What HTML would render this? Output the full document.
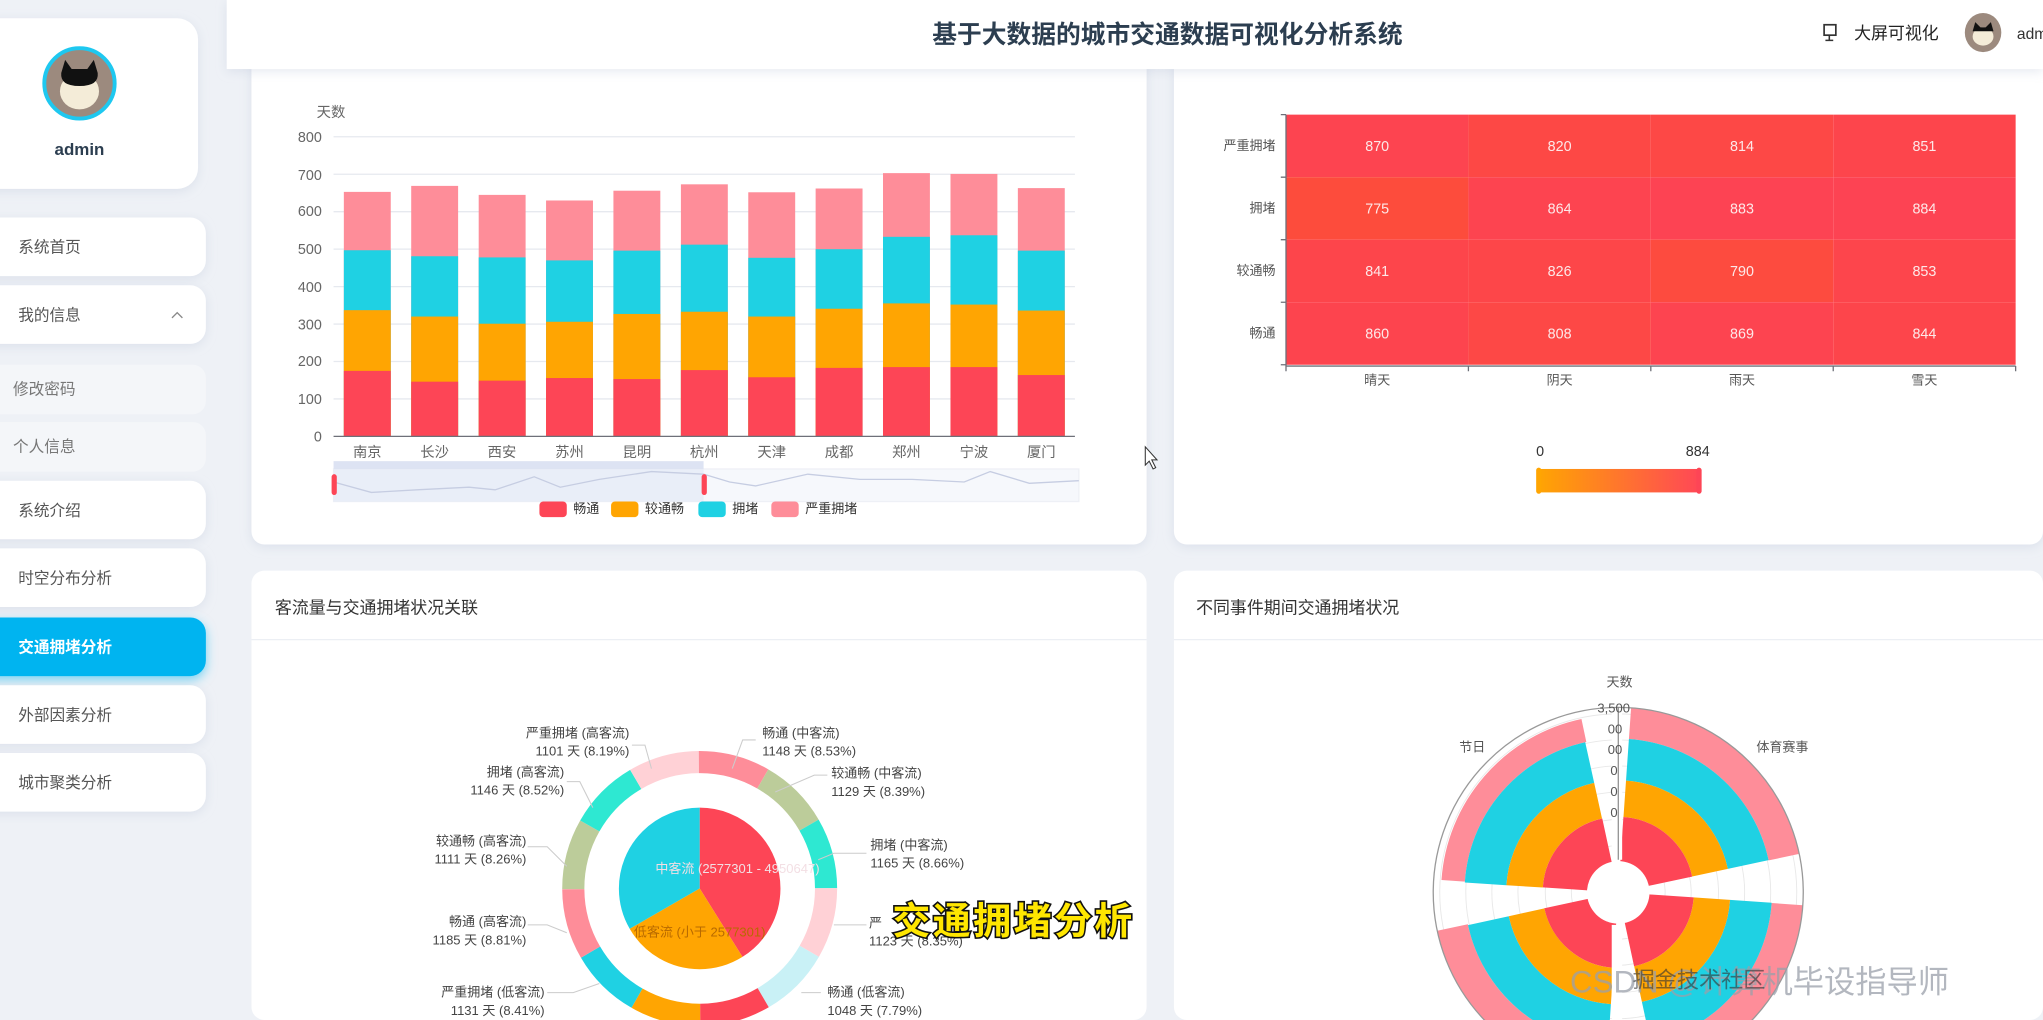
<!DOCTYPE html>
<html><head><meta charset="utf-8"><style>
html,body{margin:0;padding:0;width:2043px;height:1020px;overflow:hidden;background:#eef1f6}
svg{display:block}
text{font-family:"Liberation Sans","Noto Sans CJK SC",sans-serif}
</style></head><body>
<svg width="2043" height="1020" viewBox="0 0 1568 783" preserveAspectRatio="none" xmlns="http://www.w3.org/2000/svg" overflow="hidden">
<defs>
<filter id="sh" x="-10%" y="-10%" width="120%" height="130%"><feDropShadow dx="0" dy="2" stdDeviation="4" flood-color="#b8c2d6" flood-opacity="0.35"/></filter>
<filter id="shb" x="-10%" y="-20%" width="120%" height="160%"><feDropShadow dx="0" dy="3" stdDeviation="4" flood-color="#00b4f0" flood-opacity="0.5"/></filter>
<linearGradient id="vm" x1="0" x2="1"><stop offset="0" stop-color="#ffa502"/><stop offset="1" stop-color="#ff4757"/></linearGradient>
<clipPath id="cl"><rect x="0" y="0" width="1568" height="783"/></clipPath>
</defs>
<g clip-path="url(#cl)">
<rect width="1568" height="783" fill="#eef1f6"/>
<rect x="-20" y="14" width="172" height="131" rx="16" fill="#fff" filter="url(#sh)"/>
<circle cx="61" cy="64" r="27" fill="#9c8a7e" stroke="#1ec8f0" stroke-width="3"/>
<ellipse cx="61" cy="70" rx="15" ry="14" fill="#f4ecd8"/>
<path d="M47 56 L50 46 L55 53 L67 53 L72 46 L75 56 Q76 66 61 66 Q46 66 47 56Z" fill="#111"/>
<text x="61" y="119" text-anchor="middle" font-size="13" font-weight="bold" fill="#2c3e50">admin</text>
<g font-size="12" fill="#555">
<rect x="-20" y="167" width="178" height="45" rx="12" fill="#fff" filter="url(#sh)"/><text x="14" y="194">系统首页</text>
<rect x="-20" y="219" width="178" height="45" rx="12" fill="#fff" filter="url(#sh)"/><text x="14" y="246">我的信息</text>
<path d="M132 244 L136 240 L140 244" fill="none" stroke="#888" stroke-width="1"/>
<rect x="-20" y="280" width="178" height="38" rx="10" fill="#f4f6f9"/><text x="10" y="303" fill="#777">修改密码</text>
<rect x="-20" y="324" width="178" height="38" rx="10" fill="#f4f6f9"/><text x="10" y="347" fill="#777">个人信息</text>
<rect x="-20" y="369" width="178" height="45" rx="12" fill="#fff" filter="url(#sh)"/><text x="14" y="396">系统介绍</text>
<rect x="-20" y="421" width="178" height="45" rx="12" fill="#fff" filter="url(#sh)"/><text x="14" y="448">时空分布分析</text>
<rect x="-20" y="474" width="178" height="45" rx="12" fill="#00b4f0" filter="url(#shb)"/><text x="14" y="501" fill="#fff" font-weight="bold">交通拥堵分析</text>
<rect x="-20" y="526" width="178" height="45" rx="12" fill="#fff" filter="url(#sh)"/><text x="14" y="553">外部因素分析</text>
<rect x="-20" y="578" width="178" height="45" rx="12" fill="#fff" filter="url(#sh)"/><text x="14" y="605">城市聚类分析</text>
</g>
<rect x="193" y="30" width="687" height="388" rx="10" fill="#fff" filter="url(#sh)"/>
<rect x="901" y="30" width="667" height="388" rx="10" fill="#fff" filter="url(#sh)"/>
<rect x="193" y="438" width="687" height="345" rx="10" fill="#fff"/>
<rect x="901" y="438" width="667" height="345" rx="10" fill="#fff"/>
<line x1="193" y1="491" x2="880" y2="491" stroke="#eceff4"/>
<line x1="901" y1="491" x2="1568" y2="491" stroke="#eceff4"/>
<text x="211" y="471" font-size="13" fill="#333">客流量与交通拥堵状况关联</text>
<text x="918" y="471" font-size="13" fill="#333">不同事件期间交通拥堵状况</text>
<rect x="174" y="0" width="1394" height="53" fill="#fff" filter="url(#sh)"/>
<text x="896" y="33" text-anchor="middle" font-size="19" font-weight="bold" fill="#2c3e50">基于大数据的城市交通数据可视化分析系统</text>
<rect x="1400" y="19" width="9" height="8" fill="none" stroke="#333" stroke-width="1.3"/><path d="M1404 27 V31 M1401 31 H1407" stroke="#333" stroke-width="1.2"/>
<text x="1423" y="30" font-size="13" fill="#222">大屏可视化</text>
<ellipse cx="1522" cy="25" rx="14" ry="15" fill="#9c8a7e"/><ellipse cx="1522" cy="28" rx="8" ry="7" fill="#f4ecd8"/><path d="M1514 24 L1516 17 L1520 21 L1524 21 L1528 17 L1530 24Z" fill="#111"/>
<text x="1548" y="30" font-size="12" fill="#333">adm</text>
<g stroke="#e6e9ef" stroke-width="1">
<line x1="256" x2="825" y1="105" y2="105"/><line x1="256" x2="825" y1="133.75" y2="133.75"/><line x1="256" x2="825" y1="162.5" y2="162.5"/><line x1="256" x2="825" y1="191.25" y2="191.25"/><line x1="256" x2="825" y1="220" y2="220"/><line x1="256" x2="825" y1="248.75" y2="248.75"/><line x1="256" x2="825" y1="277.5" y2="277.5"/><line x1="256" x2="825" y1="306.25" y2="306.25"/>
</g>
<g font-size="11" fill="#666" text-anchor="end">
<text x="247" y="109">800</text><text x="247" y="138">700</text><text x="247" y="166">600</text><text x="247" y="195">500</text><text x="247" y="224">400</text><text x="247" y="253">300</text><text x="247" y="281">200</text><text x="247" y="310">100</text><text x="247" y="339">0</text>
</g>
<text x="243" y="90" font-size="11" fill="#666">天数</text>
<g>
<rect x="263.9" y="147.3" width="36" height="187.7" fill="#fe8d99"/><rect x="263.9" y="192.1" width="36" height="142.9" fill="#1fd1e3"/><rect x="263.9" y="238.1" width="36" height="96.9" fill="#ffa502"/><rect x="263.9" y="284.7" width="36" height="50.3" fill="#fd4556"/>
<rect x="315.6" y="142.7" width="36" height="192.3" fill="#fe8d99"/><rect x="315.6" y="196.7" width="36" height="138.3" fill="#1fd1e3"/><rect x="315.6" y="243" width="36" height="92" fill="#ffa502"/><rect x="315.6" y="293" width="36" height="42" fill="#fd4556"/>
<rect x="367.4" y="149.6" width="36" height="185.4" fill="#fe8d99"/><rect x="367.4" y="197.6" width="36" height="137.4" fill="#1fd1e3"/><rect x="367.4" y="248.5" width="36" height="86.5" fill="#ffa502"/><rect x="367.4" y="292.2" width="36" height="42.8" fill="#fd4556"/>
<rect x="419.1" y="153.9" width="36" height="181.1" fill="#fe8d99"/><rect x="419.1" y="199.9" width="36" height="135.1" fill="#1fd1e3"/><rect x="419.1" y="247" width="36" height="88" fill="#ffa502"/><rect x="419.1" y="290.2" width="36" height="44.8" fill="#fd4556"/>
<rect x="470.8" y="146.4" width="36" height="188.6" fill="#fe8d99"/><rect x="470.8" y="192.4" width="36" height="142.6" fill="#1fd1e3"/><rect x="470.8" y="241" width="36" height="94" fill="#ffa502"/><rect x="470.8" y="291" width="36" height="44" fill="#fd4556"/>
<rect x="522.6" y="141.5" width="36" height="193.5" fill="#fe8d99"/><rect x="522.6" y="187.8" width="36" height="147.2" fill="#1fd1e3"/><rect x="522.6" y="239.3" width="36" height="95.7" fill="#ffa502"/><rect x="522.6" y="284.1" width="36" height="50.9" fill="#fd4556"/>
<rect x="574.3" y="147.6" width="36" height="187.4" fill="#fe8d99"/><rect x="574.3" y="197.9" width="36" height="137.1" fill="#1fd1e3"/><rect x="574.3" y="243" width="36" height="92" fill="#ffa502"/><rect x="574.3" y="289.6" width="36" height="45.4" fill="#fd4556"/>
<rect x="626" y="144.7" width="36" height="190.3" fill="#fe8d99"/><rect x="626" y="191.3" width="36" height="143.7" fill="#1fd1e3"/><rect x="626" y="237" width="36" height="98" fill="#ffa502"/><rect x="626" y="282.4" width="36" height="52.6" fill="#fd4556"/>
<rect x="677.7" y="132.9" width="36" height="202.1" fill="#fe8d99"/><rect x="677.7" y="181.8" width="36" height="153.2" fill="#1fd1e3"/><rect x="677.7" y="232.9" width="36" height="102.1" fill="#ffa502"/><rect x="677.7" y="281.8" width="36" height="53.2" fill="#fd4556"/>
<rect x="729.5" y="133.5" width="36" height="201.5" fill="#fe8d99"/><rect x="729.5" y="180.6" width="36" height="154.4" fill="#1fd1e3"/><rect x="729.5" y="233.8" width="36" height="101.2" fill="#ffa502"/><rect x="729.5" y="281.8" width="36" height="53.2" fill="#fd4556"/>
<rect x="781.2" y="144.4" width="36" height="190.6" fill="#fe8d99"/><rect x="781.2" y="192.4" width="36" height="142.6" fill="#1fd1e3"/><rect x="781.2" y="238.4" width="36" height="96.6" fill="#ffa502"/><rect x="781.2" y="287.9" width="36" height="47.1" fill="#fd4556"/>
</g>
<line x1="256" x2="825" y1="335" y2="335" stroke="#6e7079"/>
<g font-size="11" fill="#666" text-anchor="middle">
<text x="281.9" y="351">南京</text><text x="333.6" y="351">长沙</text><text x="385.3" y="351">西安</text><text x="437.1" y="351">苏州</text><text x="488.8" y="351">昆明</text><text x="540.5" y="351">杭州</text><text x="592.3" y="351">天津</text><text x="644" y="351">成都</text><text x="695.7" y="351">郑州</text><text x="747.5" y="351">宁波</text><text x="799.2" y="351">厦门</text>
</g>
<rect x="256" y="360" width="572" height="25" fill="#f6f8fc" stroke="#eef0f6"/>
<rect x="256" y="354" width="284" height="6" fill="#dde3f3"/>
<rect x="256" y="360" width="284" height="25" fill="#e4e9f7" opacity="0.7"/>
<polyline points="256,370 285,378 320,376 360,374 380,376 410,366 430,374 460,368 500,362 540,364 560,370 580,373 620,364 660,368 700,368 740,370 760,362 790,371 828,369" fill="none" stroke="#c6cde2" stroke-width="1"/>
<rect x="254.5" y="364" width="4" height="16" rx="2" fill="#fd4556"/><rect x="538.5" y="364" width="4" height="16" rx="2" fill="#fd4556"/>
<g font-size="10" fill="#333">
<rect x="414" y="385" width="21" height="12" rx="3" fill="#fd4556"/><text x="440" y="394">畅通</text>
<rect x="469" y="385" width="21" height="12" rx="3" fill="#ffa502"/><text x="495" y="394">较通畅</text>
<rect x="536" y="385" width="21" height="12" rx="3" fill="#1fd1e3"/><text x="562" y="394">拥堵</text>
<rect x="592" y="385" width="21" height="12" rx="3" fill="#fe8d99"/><text x="618" y="394">严重拥堵</text>
</g>
<g>
<rect x="987" y="88" width="140" height="48" fill="#fd4450"/><rect x="1127" y="88" width="140" height="48" fill="#fd4845"/><rect x="1267" y="88" width="140" height="48" fill="#fd4846"/><rect x="1407" y="88" width="140" height="48" fill="#fd454c"/>
<rect x="987" y="136" width="140" height="48" fill="#fd4c3c"/><rect x="1127" y="136" width="140" height="48" fill="#fd4450"/><rect x="1267" y="136" width="140" height="48" fill="#fd4353"/><rect x="1407" y="136" width="140" height="48" fill="#fd4353"/>
<rect x="987" y="184" width="140" height="48" fill="#fd454b"/><rect x="1127" y="184" width="140" height="48" fill="#fd4649"/><rect x="1267" y="184" width="140" height="48" fill="#fd4b3f"/><rect x="1407" y="184" width="140" height="48" fill="#fd454c"/>
<rect x="987" y="232" width="140" height="48" fill="#fd444e"/><rect x="1127" y="232" width="140" height="48" fill="#fd4846"/><rect x="1267" y="232" width="140" height="48" fill="#fd4450"/><rect x="1407" y="232" width="140" height="48" fill="#fd454b"/>
</g>
<g font-size="11" fill="#fde8e8" text-anchor="middle">
<text x="1057" y="116">870</text><text x="1197" y="116">820</text><text x="1337" y="116">814</text><text x="1477" y="116">851</text>
<text x="1057" y="164">775</text><text x="1197" y="164">864</text><text x="1337" y="164">883</text><text x="1477" y="164">884</text>
<text x="1057" y="212">841</text><text x="1197" y="212">826</text><text x="1337" y="212">790</text><text x="1477" y="212">853</text>
<text x="1057" y="260">860</text><text x="1197" y="260">808</text><text x="1337" y="260">869</text><text x="1477" y="260">844</text>
</g>
<path d="M987 88 V281 H1547 M983 88 H987 M983 136 H987 M983 184 H987 M983 232 H987 M983 280 H987 M987 281 V285 M1127 281 V285 M1267 281 V285 M1407 281 V285 M1547 281 V285" fill="none" stroke="#6e7079" stroke-width="1"/>
<g font-size="10" fill="#555" text-anchor="end">
<text x="979" y="115">严重拥堵</text><text x="979" y="163">拥堵</text><text x="979" y="211">较通畅</text><text x="979" y="259">畅通</text>
</g>
<g font-size="10" fill="#555" text-anchor="middle">
<text x="1057" y="295">晴天</text><text x="1197" y="295">阴天</text><text x="1337" y="295">雨天</text><text x="1477" y="295">雪天</text>
</g>
<text x="1182" y="350" font-size="11" fill="#333" text-anchor="middle">0</text>
<text x="1303" y="350" font-size="11" fill="#333" text-anchor="middle">884</text>
<rect x="1180" y="360" width="125" height="18" fill="url(#vm)"/>
<rect x="1179" y="359" width="4" height="20" rx="2" fill="#ffa502"/><rect x="1302" y="359" width="4" height="20" rx="2" fill="#fd4556"/>
<g transform="rotate(-90 537 682)" fill="none">
<circle cx="537" cy="682" r="31" stroke-width="62" pathLength="360" stroke="#fd4556" stroke-dasharray="148 212"/>
<circle cx="537" cy="682" r="31" stroke-width="62" pathLength="360" stroke="#ffa502" stroke-dasharray="92 268" stroke-dashoffset="-148"/>
<circle cx="537" cy="682" r="31" stroke-width="62" pathLength="360" stroke="#1fd1e3" stroke-dasharray="120 240" stroke-dashoffset="-240"/>
<circle cx="537" cy="682" r="97" stroke-width="17" pathLength="360" stroke="#fe8d99" stroke-dasharray="30 330"/>
<circle cx="537" cy="682" r="97" stroke-width="17" pathLength="360" stroke="#bccc9a" stroke-dasharray="30 330" stroke-dashoffset="-30"/>
<circle cx="537" cy="682" r="97" stroke-width="17" pathLength="360" stroke="#2ee8d2" stroke-dasharray="30 330" stroke-dashoffset="-60"/>
<circle cx="537" cy="682" r="97" stroke-width="17" pathLength="360" stroke="#ffd1d6" stroke-dasharray="30 330" stroke-dashoffset="-90"/>
<circle cx="537" cy="682" r="97" stroke-width="17" pathLength="360" stroke="#c9f1f6" stroke-dasharray="30 330" stroke-dashoffset="-120"/>
<circle cx="537" cy="682" r="97" stroke-width="17" pathLength="360" stroke="#fd4556" stroke-dasharray="30 330" stroke-dashoffset="-150"/>
<circle cx="537" cy="682" r="97" stroke-width="17" pathLength="360" stroke="#ffa502" stroke-dasharray="30 330" stroke-dashoffset="-180"/>
<circle cx="537" cy="682" r="97" stroke-width="17" pathLength="360" stroke="#1fd1e3" stroke-dasharray="30 330" stroke-dashoffset="-210"/>
<circle cx="537" cy="682" r="97" stroke-width="17" pathLength="360" stroke="#fe8d99" stroke-dasharray="30 330" stroke-dashoffset="-240"/>
<circle cx="537" cy="682" r="97" stroke-width="17" pathLength="360" stroke="#bccc9a" stroke-dasharray="30 330" stroke-dashoffset="-270"/>
<circle cx="537" cy="682" r="97" stroke-width="17" pathLength="360" stroke="#2ee8d2" stroke-dasharray="30 330" stroke-dashoffset="-300"/>
<circle cx="537" cy="682" r="97" stroke-width="17" pathLength="360" stroke="#ffd1d6" stroke-dasharray="30 330" stroke-dashoffset="-330"/>
</g>
<text x="566" y="670" font-size="10" fill="#f3dfe4" text-anchor="middle">中客流 (2577301 - 4950647)</text>
<text x="537" y="719" font-size="10" fill="#b86a00" text-anchor="middle">低客流 (小于 2577301)</text>
<g fill="none" stroke="#ccc" stroke-width="0.8">
<path d="M562 590 L570 568 L580 568"/><path d="M595 608 L625 595 L635 595"/><path d="M628 660 L640 655 L665 655"/><path d="M500 590 L495 572 L485 572"/><path d="M455 620 L445 600 L435 600"/><path d="M435 665 L420 650 L405 650"/><path d="M435 716 L420 710 L405 710"/><path d="M460 755 L440 762 L420 762"/><path d="M615 762 L630 762"/><path d="M640 710 L665 710"/>
</g>
<g font-size="10" fill="#444">
<text x="585" y="566">畅通 (中客流)</text><text x="585" y="580">1148 天 (8.53%)</text>
<text x="638" y="597">较通畅 (中客流)</text><text x="638" y="611">1129 天 (8.39%)</text>
<text x="668" y="652">拥堵 (中客流)</text><text x="668" y="666">1165 天 (8.66%)</text>
<text x="667" y="712">严</text><text x="667" y="726">1123 天 (8.35%)</text>
<text x="635" y="765">畅通 (低客流)</text><text x="635" y="779">1048 天 (7.79%)</text>
<text x="483" y="566" text-anchor="end">严重拥堵 (高客流)</text><text x="483" y="580" text-anchor="end">1101 天 (8.19%)</text>
<text x="433" y="596" text-anchor="end">拥堵 (高客流)</text><text x="433" y="610" text-anchor="end">1146 天 (8.52%)</text>
<text x="404" y="649" text-anchor="end">较通畅 (高客流)</text><text x="404" y="663" text-anchor="end">1111 天 (8.26%)</text>
<text x="404" y="711" text-anchor="end">畅通 (高客流)</text><text x="404" y="725" text-anchor="end">1185 天 (8.81%)</text>
<text x="418" y="765" text-anchor="end">严重拥堵 (低客流)</text><text x="418" y="779" text-anchor="end">1131 天 (8.41%)</text>
</g>
<text x="778" y="717" font-size="29" font-weight="bold" fill="#ffe600" stroke="#111" stroke-width="2.5" paint-order="stroke" text-anchor="middle" font-family="'Noto Serif CJK SC',serif" letter-spacing="2">交通拥堵分析</text>
<g fill="none" stroke="#e8e8e8" stroke-width="0.7">
<circle cx="1242" cy="685" r="36"/><circle cx="1242" cy="685" r="56"/><circle cx="1242" cy="685" r="77"/><circle cx="1242" cy="685" r="97"/><circle cx="1242" cy="685" r="117"/><circle cx="1242" cy="685" r="137"/>
</g>
<g transform="rotate(-90 1242 685)" fill="none">
<circle cx="1242" cy="685" r="130" stroke-width="24" pathLength="360" stroke="#fe8d99" stroke-dasharray="74 16 74 16 74 16 0 90" stroke-dashoffset="-4"/>
<circle cx="1242" cy="685" r="127" stroke-width="18" pathLength="360" stroke="#fe8d99" stroke-dasharray="0 270 74 16" stroke-dashoffset="-4"/>
<circle cx="1242" cy="685" r="102" stroke-width="32" pathLength="360" stroke="#1fd1e3" stroke-dasharray="74 16 74 16 74 16 74 16" stroke-dashoffset="-4"/>
<circle cx="1242" cy="685" r="72" stroke-width="28" pathLength="360" stroke="#ffa502" stroke-dasharray="74 16 74 16 74 16 74 16" stroke-dashoffset="-4"/>
<circle cx="1242" cy="685" r="40" stroke-width="36" pathLength="360" stroke="#fd4556" stroke-dasharray="74 16 74 16 74 16 74 16" stroke-dashoffset="-4"/>
</g>
<rect x="1237" y="540" width="8" height="120" fill="#fff"/>
<rect x="1237" y="710" width="8" height="80" fill="#fff"/>
<circle cx="1242" cy="685" r="24" fill="#fff"/>
<circle cx="1242" cy="685" r="142" fill="none" stroke="#999" stroke-width="1"/>
<line x1="1242" y1="543" x2="1242" y2="660" stroke="#777" stroke-width="0.8"/>
<g font-size="10" fill="#555">
<text x="1226" y="547">3,500</text><text x="1234" y="563">00</text><text x="1234" y="579">00</text><text x="1236" y="595">0</text><text x="1236" y="611">0</text><text x="1236" y="627">0</text>
<text x="1233" y="527">天数</text>
<text x="1120" y="577">节日</text><text x="1348" y="577">体育赛事</text>
</g>
<text x="1205" y="762" font-size="24" fill="#9aa0aa" opacity="0.75">CSDN @计算机毕设指导师</text>
<text x="1253" y="758" font-size="17" fill="#333" opacity="0.6">掘金技术社区</text>
<path d="M879 343 L879 357 L882 354 L885 360 L887 359 L884 353 L888 353 Z" fill="#fff" stroke="#333" stroke-width="0.8"/>
</g>
</svg>
</body></html>
